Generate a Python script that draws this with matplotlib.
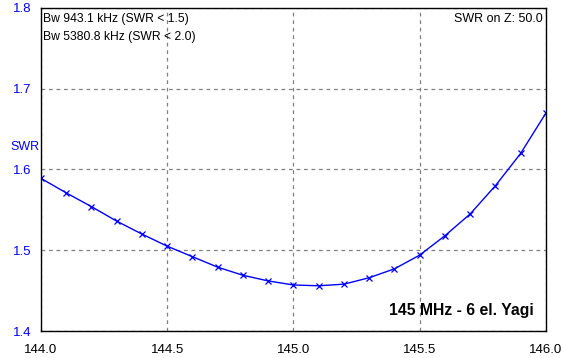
import numpy as np
import matplotlib
matplotlib.use('Agg')
import matplotlib.pyplot as plt

plt.rcParams['font.family'] = ['Liberation Sans', 'DejaVu Sans']

# Frequenz (MHz) und SWR-Werte
freq = [144.0, 144.1, 144.2, 144.3, 144.4, 144.5, 144.6, 144.7, 144.8, 144.9, 145.0,
        145.1, 145.2, 145.3, 145.4, 145.5, 145.6, 145.7, 145.8, 145.9, 146.0]
swr = [1.589, 1.571, 1.554, 1.536, 1.520, 1.505, 1.492, 1.479, 1.469, 1.462, 1.457,
       1.456, 1.458, 1.466, 1.477, 1.494, 1.518, 1.545, 1.580, 1.620, 1.670]

x_ticks = [144.0, 144.5, 145.0, 145.5, 146.0]
y_ticks = [1.4, 1.5, 1.6, 1.7, 1.8]

fig = plt.figure(figsize=(5.64, 3.58), dpi=100)
ax = fig.add_axes([0.0727, 0.0754, 0.8953, 0.9023])

ax.plot(freq, swr, color='blue', linewidth=1, marker='x', markersize=4,
        markeredgewidth=0.9)

ax.set_xlim(144.0, 146.0)
ax.set_ylim(1.4, 1.8)
ax.set_xticks(x_ticks)
ax.set_xticklabels([f'{v:.1f}' for v in x_ticks])
ax.set_yticks(y_ticks)
ax.set_yticklabels([f'{v:.1f}' for v in y_ticks], color='blue')
ax.tick_params(length=0, labelsize=9.5)
ax.tick_params(axis='x', pad=9)
ax.tick_params(axis='y', pad=7)

ax.grid(True, linestyle=(0, (3, 3)), color='gray', linewidth=0.9)
for s in ax.spines.values():
    s.set_linewidth(1)

fig.text(0.018, 0.59, 'SWR', color='blue', fontsize=9, va='center', ha='left')

ax.text(0.004, 0.966, 'Bw 943.1 kHz (SWR < 1.5)', transform=ax.transAxes,
        fontsize=8.7, va='center', ha='left')
ax.text(0.004, 0.910, 'Bw 5380.8 kHz (SWR < 2.0)', transform=ax.transAxes,
        fontsize=8.7, va='center', ha='left')
ax.text(0.993, 0.966, 'SWR on Z: 50.0', transform=ax.transAxes,
        fontsize=9, va='center', ha='right')
ax.text(0.975, 0.065, '145 MHz - 6 el. Yagi', transform=ax.transAxes,
        fontsize=11.3, fontweight='bold', va='center', ha='right')

fig.savefig('out.png', dpi=100)
